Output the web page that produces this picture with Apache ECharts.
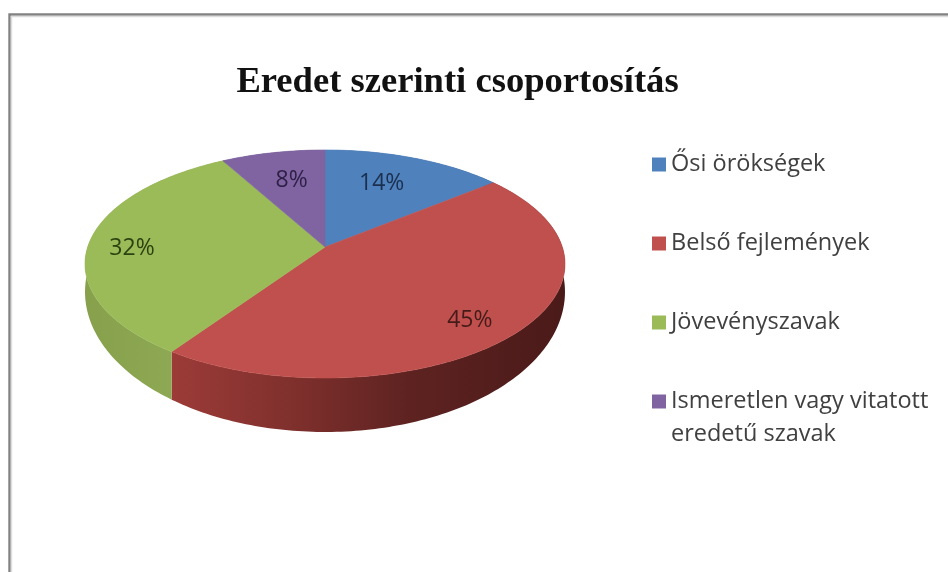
<!DOCTYPE html>
<html>
<head>
<meta charset="utf-8">
<title>Eredet szerinti csoportosítás</title>
<style>
  html, body { margin: 0; padding: 0; background: #fff; }
  #chart { width: 948px; height: 572px; }
</style>
<script src="https://cdn.jsdelivr.net/npm/echarts@6/dist/echarts.min.js"></script>
</head>
<body>
<div id="chart"></div>
<script>
const chartTitle = 'Eredet szerinti csoportosítás';
const categories = ['Ősi örökségek', 'Belső fejlemények', 'Jövevényszavak', 'Ismeretlen vagy vitatott\neredetű szavak'];
const shares = [14, 45, 32, 8];

const faceColors = ['#4f81bd', '#c0504d', '#9bbb59', '#8064a2'];
const labelColors = ['#1b2f4e', '#451b1a', '#2c4210', '#2d1f45'];
const sideStops = [
  [[0, '#3f6797'], [1, '#2a4565']],
  [[0, '#9c3b38'], [0.3, '#80302d'], [0.6, '#5e2321'], [1, '#4a1a19']],
  [[0, '#86a04b'], [1, '#92ad58']],
  [[0, '#664f82'], [1, '#4c3c61']]
];
// How far out along each slice's middle direction its label sits, and a vertical nudge.
const labelReach = [0.63, 0.747, 0.82, 0.64];
const labelNudge = [-8, 11, 6, -6];

// Tilted disc: a circle on a plane, seen in perspective, so the hub sits above the ellipse centre.
const disc = { cx: 325, hubY: 247, a: 237.3, b: 111.5, k: 0.149 };
const rimLower = { hubY: 271, b: 137 };

const total = shares.reduce((s, v) => s + v, 0);
const startOf = i => shares.slice(0, i).reduce((s, v) => s + v, 0);

function project(theta, r, plane) {
  const u = Math.sin(theta) * r;
  const v = -Math.cos(theta) * r;
  const w = 1 - disc.k * v;
  return [disc.cx + disc.a * u / w, plane.hubY + plane.b * v / w];
}

function arc(from, to, plane) {
  const steps = Math.max(2, Math.ceil((to - from) / (Math.PI / 180)));
  const pts = [];
  for (let s = 0; s <= steps; s++) {
    pts.push(project(from + (to - from) * s / steps, 1, plane));
  }
  return pts;
}

const angleAt = share => share / total * Math.PI * 2;

function renderSide(i, api) {
  const value = api.value(0);
  const from = angleAt(startOf(i));
  const to = from + angleAt(value);
  const upper = arc(from, to, disc);
  const lower = arc(from, to, rimLower).reverse();
  const xs = upper.map(p => p[0]);
  const fill = new echarts.graphic.LinearGradient(
    Math.min(...xs), 0, Math.max(...xs), 0,
    sideStops[i].map(s => ({ offset: s[0], color: s[1] })), true
  );
  return { type: 'polygon', shape: { points: upper.concat(lower) }, style: { fill: fill } };
}

function renderFace(i, api) {
  const value = api.value(0);
  const from = angleAt(startOf(i));
  const to = from + angleAt(value);
  const mid = (from + to) / 2;
  const anchor = project(mid, 1, disc);
  const reach = labelReach[i];
  const at = [
    disc.cx + (anchor[0] - disc.cx) * reach,
    disc.hubY + (anchor[1] - disc.hubY) * reach + labelNudge[i]
  ];
  return {
    type: 'group',
    children: [
      {
        type: 'polygon',
        shape: { points: [[disc.cx, disc.hubY]].concat(arc(from, to, disc)) },
        style: { fill: faceColors[i], stroke: faceColors[i], lineWidth: 0.6 }
      },
      {
        type: 'text',
        z2: 10,
        style: {
          text: value + '%', x: at[0], y: at[1],
          align: 'center', verticalAlign: 'middle',
          fill: labelColors[i], font: '23px "Open Sans", sans-serif'
        }
      }
    ]
  };
}

function sliceSeries(i, z, render) {
  return {
    type: 'custom',
    name: categories[i],
    coordinateSystem: 'none',
    silent: true,
    z: z,
    itemStyle: { color: faceColors[i] },
    data: [[shares[i]]],
    renderItem: (params, api) => render(i, api)
  };
}

// Every legend row is three lines tall with its first name line in the middle,
// so the swatch stays beside that line even when the name wraps onto a second one.
function legendText(name) {
  return '\n' + name + (name.indexOf('\n') < 0 ? '\n ' : '');
}

const chart = echarts.init(document.getElementById('chart'), null, { renderer: 'canvas' });
chart.setOption({
  animation: false,
  backgroundColor: '#ffffff',
  title: {
    text: chartTitle,
    left: 452.5,
    top: 59,
    textAlign: 'center',
    textStyle: {
      fontFamily: '"Liberation Serif", serif',
      fontWeight: 'bold',
      fontSize: 36.6,
      color: '#111111'
    }
  },
  legend: {
    orient: 'vertical',
    left: 652,
    top: 115,
    align: 'left',
    icon: 'rect',
    itemWidth: 14,
    itemHeight: 14,
    itemGap: -20,
    selectedMode: false,
    padding: 0,
    formatter: legendText,
    textStyle: { fontFamily: '"Open Sans", sans-serif', fontSize: 23.5, lineHeight: 33, color: '#404040' },
    data: categories.map((name, i) => ({
      name: name,
      itemStyle: { color: faceColors[i] }
    }))
  },
  graphic: [
    { type: 'rect', shape: { x: 9.5, y: 14.5, width: 1200, height: 1000 }, style: { fill: 'none', stroke: '#828282', lineWidth: 2.4 }, silent: true },
    { type: 'rect', shape: { x: 11.5, y: 16.5, width: 1200, height: 1000 }, style: { fill: 'none', stroke: '#dcdcdc', lineWidth: 1.4 }, silent: true }
  ],
  series: categories.map((_, i) => sliceSeries(i, 2, renderSide))
    .concat(categories.map((_, i) => sliceSeries(i, 3, renderFace)))
});
</script>
</body>
</html>
